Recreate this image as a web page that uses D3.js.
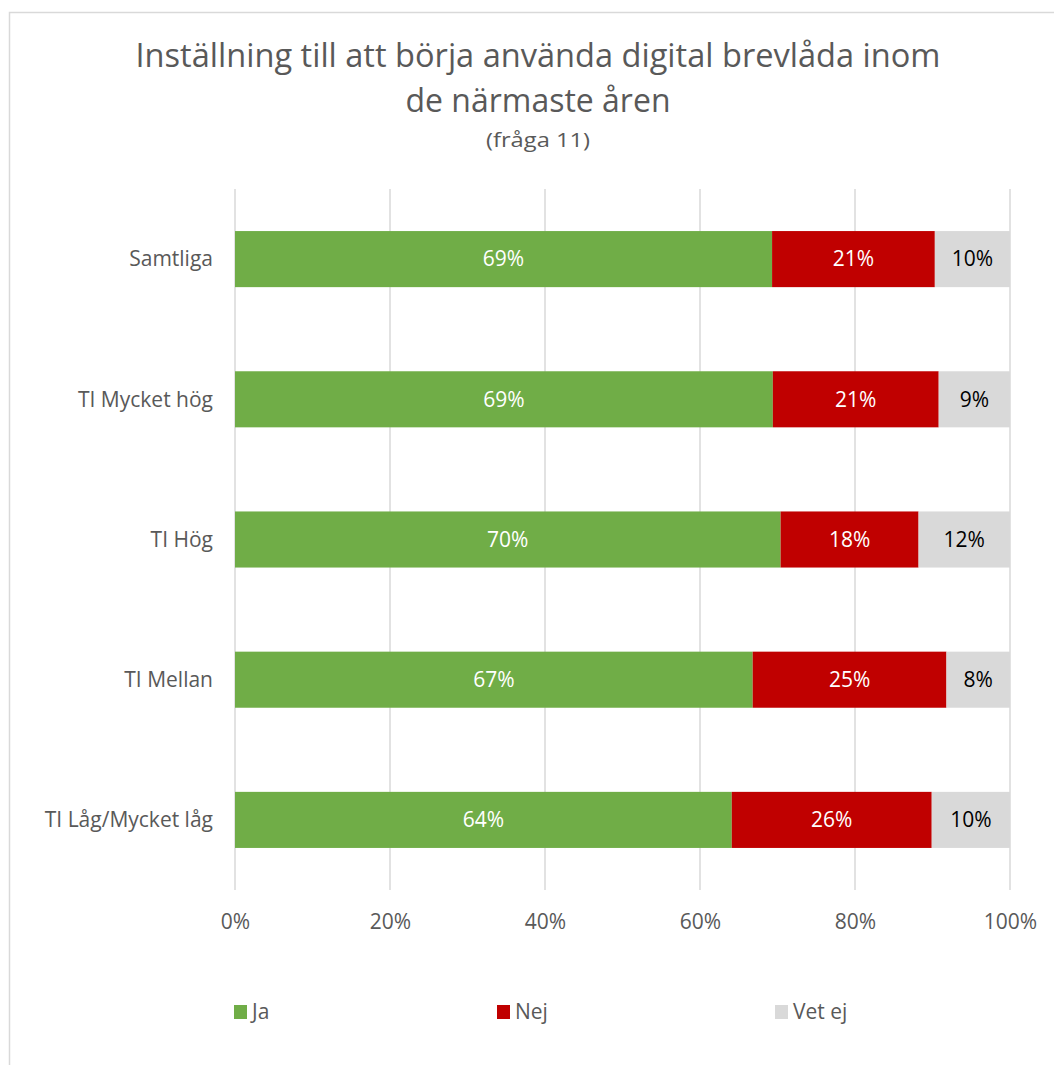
<!DOCTYPE html>
<html>
<head>
<meta charset="utf-8">
<script src="https://cdn.jsdelivr.net/npm/d3@7"></script>
<style>
  html, body { margin: 0; padding: 0; background: #fff; }
  svg { display: block; font-family: "Open Sans", "Noto Sans", sans-serif; }
</style>
</head>
<body>
<svg id="chart" width="1054" height="1065"></svg>
<script>
// Survey groups (top to bottom)
const categories = ["Samtliga", "TI Mycket hög", "TI Hög", "TI Mellan", "TI Låg/Mycket låg"];
// Share of answers per group
const ja    = [0.693, 0.694, 0.704, 0.668, 0.641];
const nej   = [0.210, 0.214, 0.178, 0.250, 0.258];
const vetEj = [0.097, 0.092, 0.118, 0.082, 0.101];
const seriesNames = ["Ja", "Nej", "Vet ej"];
const seriesColors = ["#70ad47", "#c00000", "#d9d9d9"];
const labelColors = ["#ffffff", "#ffffff", "#000000"];
const tickValues = [0, 0.2, 0.4, 0.6, 0.8, 1.0];

const svg = d3.select("#chart");
const W = 1054, H = 1065;
const FS = 21;

// outer chart frame
svg.append("path")
  .attr("d", `M9.5,${H + 5} L9.5,12.5 L${W + 5},12.5`)
  .attr("fill", "none").attr("stroke", "#d9d9d9").attr("stroke-width", 1.5);

// titles
const title = svg.append("g").attr("fill", "#595959").attr("text-anchor", "middle");
title.append("text").attr("x", 538).attr("y", 67).attr("font-size", 32)
  .text("Inställning till att börja använda digital brevlåda inom");
title.append("text").attr("x", 538).attr("y", 112).attr("font-size", 32)
  .text("de närmaste åren");
title.append("text").attr("x", 538).attr("y", 147).attr("font-size", 20)
  .text("(fråga 11)");
// fit the title lines to their widths
const targetW = [805, 265, 104];
title.selectAll("text").each(function(d, i) {
  d3.select(this).attr("textLength", targetW[i]).attr("lengthAdjust", "spacingAndGlyphs");
});

const x = d3.scaleLinear().domain([0, 1]).range([235, 1010]);
const y = d3.scaleBand().domain(categories).range([189, 890]).paddingInner(0.6).paddingOuter(0.3);

// vertical gridlines
svg.append("g").selectAll("line").data(tickValues).join("line")
  .attr("x1", d => x(d)).attr("x2", d => x(d))
  .attr("y1", 189).attr("y2", 890)
  .attr("stroke", "#d9d9d9").attr("stroke-width", 1.5);

// stacked data
const rows = categories.map((c, i) => ({ cat: c, Ja: ja[i], Nej: nej[i], "Vet ej": vetEj[i] }));
const stacked = d3.stack().keys(seriesNames)(rows);

const groups = svg.append("g").selectAll("g").data(stacked).join("g")
  .attr("fill", (d, i) => seriesColors[i]);
groups.selectAll("rect").data(d => d).join("rect")
  .attr("x", d => x(d[0]))
  .attr("width", d => x(d[1]) - x(d[0]))
  .attr("y", d => y(d.data.cat))
  .attr("height", y.bandwidth());

// value labels, formatted from each segment's own value
const fmt = d3.format(".0%");
const seriesValues = [ja, nej, vetEj];
stacked.forEach((s, si) => {
  svg.append("g").selectAll("text").data(s).join("text")
    .attr("x", d => (x(d[0]) + x(d[1])) / 2)
    .attr("y", d => y(d.data.cat) + y.bandwidth() / 2)
    .attr("dy", "0.35em")
    .attr("text-anchor", "middle")
    .attr("font-size", FS)
    .attr("fill", labelColors[si])
    .text((d, i) => fmt(seriesValues[si][i]));
});

// category axis labels
svg.append("g").selectAll("text").data(categories).join("text")
  .attr("x", 213)
  .attr("y", d => y(d) + y.bandwidth() / 2)
  .attr("dy", "0.35em")
  .attr("text-anchor", "end")
  .attr("font-size", FS)
  .attr("fill", "#595959")
  .text(d => d);

// percentage axis
const xAxis = d3.axisBottom(x).tickValues(tickValues).tickFormat(d3.format(".0%")).tickSize(0).tickPadding(0);
const ax = svg.append("g").attr("transform", "translate(0,922)").call(xAxis);
ax.select(".domain").remove();
ax.selectAll("text").attr("font-size", FS).attr("fill", "#595959")
  .attr("font-family", "\"Open Sans\", sans-serif").attr("dy", "0.35em").attr("y", 0);

// legend
const legendX = [234, 497, 775];
const legend = svg.append("g").selectAll("g").data(seriesNames).join("g")
  .attr("transform", (d, i) => `translate(${legendX[i]},1012)`);
legend.append("rect").attr("x", 0).attr("y", -7).attr("width", 13).attr("height", 14)
  .attr("fill", (d, i) => seriesColors[i]);
legend.append("text").attr("x", 18).attr("dy", "0.35em").attr("font-size", FS)
  .attr("fill", "#595959").text(d => d);
</script>
</body>
</html>
